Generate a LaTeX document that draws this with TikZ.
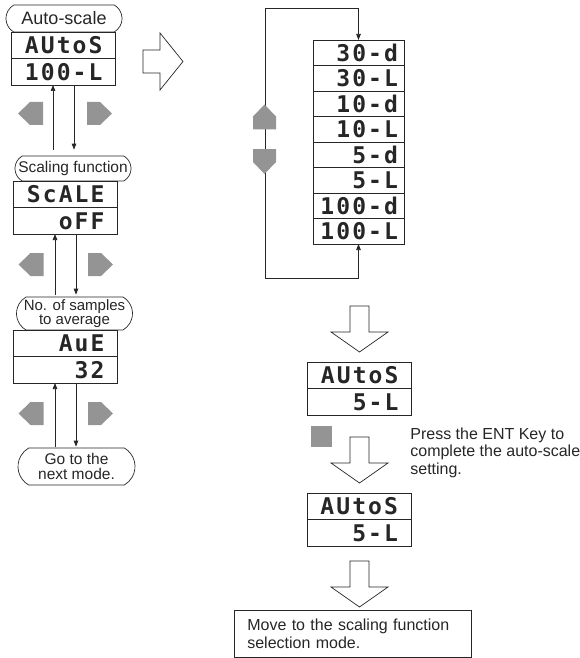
\documentclass[tikz,border=0pt]{standalone}
\usepackage{fontspec}
\setmainfont{Liberation Sans}
\newfontfamily\segfont[LetterSpace=9]{DejaVu Sans Mono}
\usetikzlibrary{arrows.meta,positioning,shapes.misc}
\definecolor{keygray}{gray}{0.58}
\definecolor{inkgray}{gray}{0.15}
\tikzset{
  >={Triangle[length=6pt,width=4.5pt]},
  tag/.style={draw, rounded rectangle, rounded rectangle arc length=120, inner sep=0pt, minimum width=116pt, align=center, font=\fontsize{15.5}{14}\selectfont},
  lcd/.style={draw, outer sep=0pt, minimum width=104pt, minimum height=26.5pt, inner xsep=13pt, inner ysep=0pt, text width=78pt, text height=17pt, text depth=0pt, align=right, font=\segfont\bfseries\fontsize{23}{23}\selectfont},
  lcdrow/.style={lcd, minimum width=91pt, inner xsep=6pt, text width=79pt, minimum height=25.5pt},
  note/.style={align=left, inner sep=0pt, font=\fontsize{16}{17.5}\selectfont},
  hollow/.style={draw, fill=white},
  keytip/.pic={\fill[keygray] (-12.5,11.5) -- (0.5,11.5) -- (12.5,0) -- (0.5,-11.5) -- (-12.5,-11.5) -- cycle;},
  bigright/.pic={\draw[hollow] (0,11.5) -- (17,11.5) -- (17,28.5) -- (40,0) -- (17,-28.5) -- (17,-11.5) -- (0,-11.5) -- cycle;},
  bigdown/.pic={\draw[hollow] (-9.5,0) -- (9.5,0) -- (9.5,-26) -- (28.5,-26) -- (0,-46) -- (-28.5,-26) -- (-9.5,-26) -- cycle;},
}
\begin{document}
\begin{tikzpicture}[x=1pt, y=1pt, line width=0.7pt, color=inkgray]
  \useasboundingbox (0,0) rectangle (580,-658);

  % left column: menu sequence
  \node[tag, minimum height=27pt, font=\fontsize{18}{18}\selectfont] (lblauto) at (64,-18.5) {Auto-scale};
  \node[lcd] (autoa) at (63.5,-45.25) {AUtoS};
  \node[lcd, below=0pt of autoa] (autob) {100-L};

  \node[tag, minimum height=25pt] (lblscale) at (73,-168.5) {Scaling function};
  \node[lcd] (scla) at (65.5,-194.25) {ScALE};
  \node[lcd, below=0pt of scla] (sclb) {oFF};

  \node[tag, minimum height=33pt, font=\fontsize{15}{14.5}\selectfont] (lblavg) at (74.5,-313.5) {No. of samples\\to average};
  \node[lcd] (avga) at (65.5,-343.25) {AuE};
  \node[lcd, below=0pt of avga] (avgb) {32};

  \node[tag, minimum height=37pt, minimum width=117pt, font=\fontsize{15.5}{15}\selectfont] (lblnext) at (76.5,-466.5) {Go to the\\next mode.};

  % up/down connectors between the menus
  \coordinate (upa) at ([xshift=-10.5pt]autob.south);
  \coordinate (dna) at ([xshift=10.5pt]autob.south);
  \draw[->, shorten <=6pt] (upa |- lblscale.north) -- (upa);
  \draw[->, shorten >=6pt] (dna) -- (dna |- lblscale.north);
  \coordinate (upb) at ([xshift=-10.5pt]sclb.south);
  \coordinate (dnb) at ([xshift=10.5pt]sclb.south);
  \draw[->, shorten <=2pt] (upb |- lblavg.north) -- (upb);
  \draw[->, shorten >=2pt] (dnb) -- (dnb |- lblavg.north);
  \coordinate (upc) at ([xshift=-10.5pt]avgb.south);
  \coordinate (dnc) at ([xshift=10.5pt]avgb.south);
  \draw[->, shorten <=1pt] (upc |- lblnext.north) -- (upc);
  \draw[->, shorten >=1pt] (dnc) -- (dnc |- lblnext.north);

  \pic[rotate=180] at (30.5,-113.5) {keytip};
  \pic at (99.5,-113.5) {keytip};
  \pic[rotate=180] at (31,-264.5) {keytip};
  \pic at (100.5,-264.5) {keytip};
  \pic[rotate=180] at (31,-413.5) {keytip};
  \pic at (100.5,-413.5) {keytip};

  \pic at (143,-61.5) {bigright};

  % right column: auto-scale values
  \node[lcdrow] (r30d) at (358.5,-52.75) {30-d};
  \node[lcdrow, below=0pt of r30d] (r30l) {30-L};
  \node[lcdrow, below=0pt of r30l] (r10d) {10-d};
  \node[lcdrow, below=0pt of r10d] (r10l) {10-L};
  \node[lcdrow, below=0pt of r10l] (r5d) {5-d};
  \node[lcdrow, below=0pt of r5d] (r5l) {5-L};
  \node[lcdrow, below=0pt of r5l] (r100d) {100-d};
  \node[lcdrow, below=0pt of r100d] (r100l) {100-L};

  \coordinate (looptop) at (265,-8);
  \coordinate (loopbot) at (265,-278);
  \draw[<->] (r30d.north) |- (looptop) -- (loopbot) -| (r100l.south);
  \pic[rotate=90] at (264.5,-117) {keytip};
  \pic[rotate=-90] at (264.5,-161.5) {keytip};

  \pic at (359.5,-306) {bigdown};
  \node[lcd] (seta) at (359.5,-375.25) {AUtoS};
  \node[lcd, below=0pt of seta] (setb) {5-L};

  \node[fill=keygray, inner sep=0pt, minimum size=21pt] (entkey) at (321.5,-436.5) {};
  \node[note, anchor=north west] (entnote) at (410,-427.5) {Press the ENT Key to\\complete the auto-scale\\setting.};
  \pic at (359.5,-437) {bigdown};

  \node[lcd] (fina) at (359,-506.25) {AUtoS};
  \node[lcd, below=0pt of fina] (finb) {5-L};
  \pic at (359.5,-561) {bigdown};

  \node[draw, note, anchor=north west, inner xsep=13pt, text width=211pt, minimum height=47pt] (movebox) at (234,-610) {Move to the scaling function\\selection mode.};
\end{tikzpicture}
\end{document}
